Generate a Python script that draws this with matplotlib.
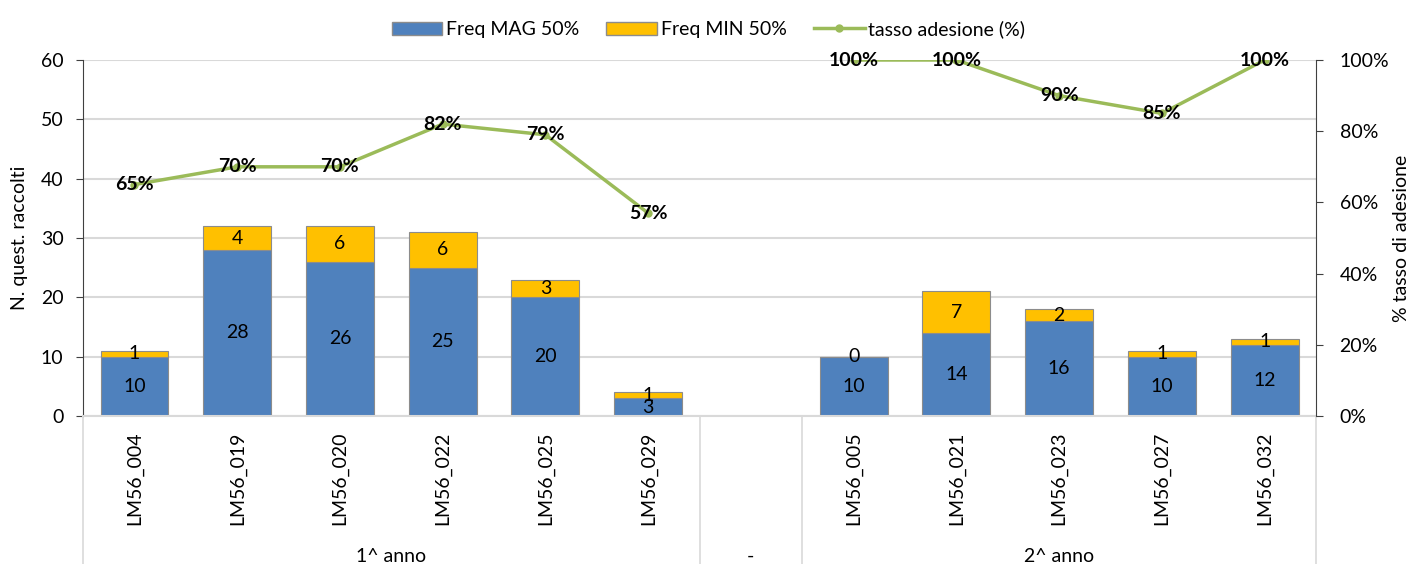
import matplotlib
matplotlib.use("Agg")
import matplotlib.pyplot as plt
from matplotlib.lines import Line2D
from matplotlib.patches import Patch
import numpy as np

plt.rcParams['font.family'] = ['Lato', 'DejaVu Sans']

# dati
codici = ['LM56_004', 'LM56_019', 'LM56_020', 'LM56_022', 'LM56_025', 'LM56_029',
          '', 'LM56_005', 'LM56_021', 'LM56_023', 'LM56_027', 'LM56_032']
freq_mag = [10, 28, 26, 25, 20, 3, np.nan, 10, 14, 16, 10, 12]
freq_min = [1, 4, 6, 6, 3, 1, np.nan, 0, 7, 2, 1, 1]
tasso = [65, 70, 70, 82, 79, 57, np.nan, 100, 100, 90, 85, 100]
gruppi = ['1^ anno', '-', '2^ anno']
n_per_gruppo = [6, 1, 5]

BLU = '#4f81bd'
GIALLO = '#ffc000'
VERDE = '#9bbb59'
GRIGIO = '#d9d9d9'
FS = 14

fig = plt.figure(figsize=(14.17, 5.64), dpi=100)
ax = fig.add_axes([0.0586, 0.2624, 0.8701, 0.6312])
ax2 = ax.twinx()

x = np.arange(len(codici))
mag = np.array(freq_mag, dtype=float)
mn = np.array(freq_min, dtype=float)

ax.set_axisbelow(True)
ax.yaxis.grid(True, color=GRIGIO, linewidth=1.5)
ax.bar(x, mag, width=0.66, color=BLU, edgecolor='#8c8c8c', linewidth=0.8, zorder=2)
ax.bar(x, mn, width=0.66, bottom=mag, color=GIALLO, edgecolor='#8c8c8c', linewidth=0.8, zorder=2)

for i in range(len(codici)):
    if np.isnan(mag[i]):
        continue
    ax.text(x[i], mag[i] / 2, f"{int(mag[i])}", ha='center', va='center', fontsize=FS, zorder=3)
    ax.text(x[i], mag[i] + mn[i] / 2, f"{int(mn[i])}", ha='center', va='center', fontsize=FS, zorder=3)

ax.set_xlim(-0.5, len(codici) - 0.5)
ax.set_ylim(0, 60)
ax.set_yticks(range(0, 61, 10))
ax.set_ylabel('N. quest. raccolti', fontsize=FS, labelpad=9)
ax.set_xticks(x)
ax.set_xticklabels(codici, rotation=90, fontsize=FS)
ax.tick_params(axis='x', length=0, pad=11)
ax.tick_params(axis='y', labelsize=FS, length=5, color='#404040', pad=9)

for s in ['top', 'right']:
    ax.spines[s].set_visible(False)
ax.spines['left'].set_color('#404040')
ax.spines['bottom'].set_color(GRIGIO)
ax.spines['bottom'].set_linewidth(1.5)

# etichette dei gruppi e separatori
confini = np.concatenate([[0], np.cumsum(n_per_gruppo)]) - 0.5
trans = ax.get_xaxis_transform()
for c in confini:
    ax.plot([c, c], [0, -0.45], transform=trans, color=GRIGIO, linewidth=1.2, clip_on=False)
for g, a, b in zip(gruppi, confini[:-1], confini[1:]):
    ax.text((a + b) / 2, -0.395, g, transform=trans, ha='center', va='center', fontsize=FS)

# tasso di adesione
t = np.array(tasso, dtype=float) / 100
ax2.plot(x, t, color=VERDE, linewidth=2.5, marker='o', markersize=5, zorder=4)
for i in range(len(codici)):
    if np.isnan(t[i]):
        continue
    ax2.text(x[i], t[i], f"{int(tasso[i])}%", ha='center', va='center', fontsize=FS,
             fontweight='bold', zorder=5)
ax2.set_ylim(0, 1)
ax2.set_yticks(np.arange(0, 1.01, 0.2))
ax2.set_yticklabels([f"{int(round(v * 100))}%" for v in np.arange(0, 1.01, 0.2)])
ax2.tick_params(axis='y', labelsize=FS, length=5, color='#404040', pad=12)
ax2.set_ylabel('% tasso di adesione', fontsize=FS, labelpad=3)
for s in ['top', 'left', 'bottom']:
    ax2.spines[s].set_visible(False)
ax2.spines['right'].set_color('#404040')

handles = [Patch(facecolor=BLU, edgecolor='#8c8c8c', label='Freq MAG 50%'),
           Patch(facecolor=GIALLO, edgecolor='#8c8c8c', label='Freq MIN 50%'),
           Line2D([0], [0], color=VERDE, linewidth=2.5, marker='o', markersize=5,
                  label='tasso adesione (%)')]
fig.legend(handles=handles, loc='upper center', bbox_to_anchor=(0.5, 0.995), ncol=3,
           frameon=False, fontsize=FS, handlelength=2.6, handletextpad=0.2, columnspacing=1.4)

fig.savefig('out.png', dpi=100)
